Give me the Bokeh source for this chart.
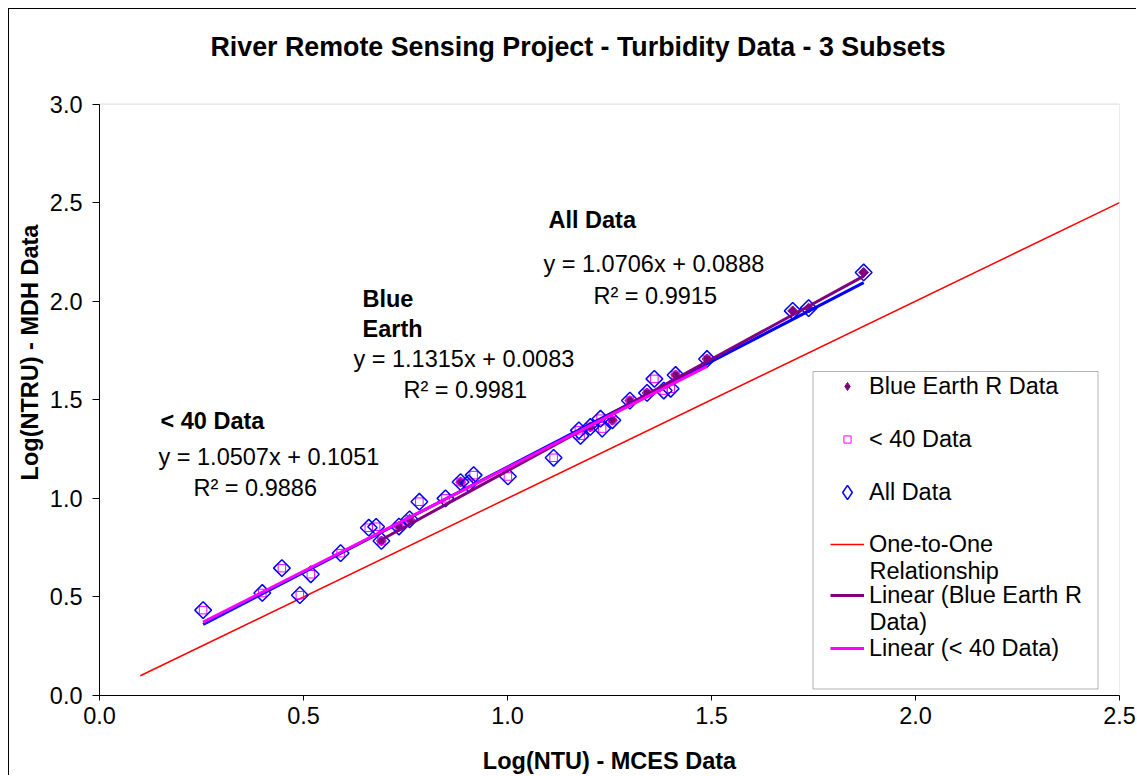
import numpy as np
from bokeh.plotting import figure
from bokeh.models import (Range1d, FixedTicker, Label, Legend, LegendItem,
                          BoxAnnotation)
from bokeh.embed import file_html
from bokeh.resources import INLINE

# ---------------- data ----------------
title_text = "River Remote Sensing Project - Turbidity Data - 3 Subsets"
x_label = "Log(NTU) - MCES Data"
y_label = "Log(NTRU) - MDH Data"

x_ticks = [0.0, 0.5, 1.0, 1.5, 2.0, 2.5]
x_tick_labels = ["0.0", "0.5", "1.0", "1.5", "2.0", "2.5"]
y_ticks = [0.0, 0.5, 1.0, 1.5, 2.0, 2.5, 3.0]
y_tick_labels = ["0.0", "0.5", "1.0", "1.5", "2.0", "2.5", "3.0"]
x_min, x_max = 0.0, 2.5
y_min, y_max = 0.0, 3.0

# All Data
all_x = [0.254, 0.399, 0.447, 0.491, 0.518, 0.591, 0.660, 0.678, 0.691, 0.734,
         0.760, 0.784, 0.848, 0.885, 0.905, 0.917, 1.001, 1.113, 1.175, 1.179,
         1.203, 1.228, 1.232, 1.257, 1.300, 1.342, 1.360, 1.383, 1.400, 1.412,
         1.489, 1.699, 1.738, 1.873]
all_y = [0.433, 0.520, 0.646, 0.509, 0.615, 0.722, 0.851, 0.856, 0.784, 0.857,
         0.894, 0.983, 1.000, 1.083, 1.076, 1.118, 1.111, 1.206, 1.345, 1.317,
         1.362, 1.404, 1.354, 1.396, 1.496, 1.535, 1.606, 1.547, 1.556, 1.626,
         1.707, 1.951, 1.965, 2.146]

# Blue Earth R Data
be_x = [0.691, 0.734, 0.760, 0.885, 1.203, 1.257, 1.300, 1.342, 1.412, 1.489,
        1.699, 1.738, 1.873]
be_y = [0.784, 0.857, 0.894, 1.083, 1.362, 1.396, 1.496, 1.535, 1.626, 1.707,
        1.951, 1.965, 2.146]

# < 40 Data
lt_x = [0.254, 0.399, 0.447, 0.491, 0.518, 0.591, 0.660, 0.678, 0.691, 0.734,
        0.760, 0.784, 0.848, 0.885, 0.905, 0.917, 1.001, 1.113, 1.175, 1.179,
        1.203, 1.228, 1.232, 1.257, 1.300, 1.342, 1.360, 1.383, 1.400, 1.412,
        1.489]
lt_y = [0.433, 0.520, 0.646, 0.509, 0.615, 0.722, 0.851, 0.856, 0.784, 0.857,
        0.894, 0.983, 1.000, 1.083, 1.076, 1.118, 1.111, 1.206, 1.345, 1.317,
        1.362, 1.404, 1.354, 1.396, 1.496, 1.535, 1.606, 1.547, 1.556, 1.626,
        1.707]

# one-to-one line
one_x = [0.1, 2.5]
one_y = [0.1, 2.5]

# trendline coefficients (slope, intercept, R^2)
fit_all = (1.0706, 0.0888, 0.9915)
fit_be = (1.1315, 0.0083, 0.9981)
fit_lt = (1.0507, 0.1051, 0.9886)

FONT = "Liberation Sans"

def trend(xs, fit):
    x0, x1 = min(xs), max(xs)
    return [x0, x1], [fit[0] * x0 + fit[1], fit[0] * x1 + fit[1]]

# ---------------- figure ----------------
# The frame reaches up to the top of the chart so that the title can live inside
# it; the plot area (0..2.5 x 0..3) is outlined separately.
PX_PER_Y = 198.0
TOP_ROOM = 95  # px between the top of the chart and the y=3.0 line
p = figure(width=1128, height=767,
           x_range=Range1d(x_min, x_max),
           y_range=Range1d(y_min, y_max + TOP_ROOM / PX_PER_Y),
           output_backend="svg", toolbar_location=None,
           min_border_left=90, min_border_right=18, min_border_top=0,
           min_border_bottom=78)
p.margin = (8, 0, 0, 8)
p.styles = {"border-left": "1px solid black", "border-top": "1px solid black"}
p.xgrid.visible = False
p.ygrid.visible = False
p.outline_line_color = None
p.background_fill_color = "white"
p.border_fill_color = "white"

# plot-area border (grey), under the axes
p.add_layout(BoxAnnotation(left=x_min, right=x_max, bottom=y_min, top=y_max,
                           fill_alpha=0, line_color="#808080", line_width=1,
                           level="underlay"))

for ax, ticks, labels in ((p.xaxis[0], x_ticks, x_tick_labels),
                          (p.yaxis[0], y_ticks, y_tick_labels)):
    ax.ticker = FixedTicker(ticks=ticks)
    ax.major_label_overrides = {t: l for t, l in zip(ticks, labels)}
    ax.minor_tick_line_color = None
    ax.major_tick_in = 0
    ax.axis_line_color = "black"
    ax.major_tick_line_color = "black"
    ax.major_label_text_font = FONT
    ax.major_label_text_font_size = "23.5px"
    ax.major_label_text_color = "black"
    ax.axis_label_text_font = FONT
    ax.axis_label_text_font_size = "23.5px"
    ax.axis_label_text_font_style = "bold"
    ax.axis_label_text_color = "black"

p.xaxis.axis_label = x_label
p.xaxis.major_tick_out = 5
p.xaxis.major_label_standoff = 6
p.xaxis.axis_label_standoff = 21
p.yaxis.axis_label = y_label
p.yaxis.bounds = (y_min, y_max)
p.yaxis.major_tick_out = 7
p.yaxis.major_label_standoff = 10
p.yaxis.axis_label_standoff = 4

# ---------------- series ----------------
r_one = p.line(one_x, one_y, line_color="#FF0000", line_width=1.5)

r_be = p.scatter(be_x, be_y, marker="square", size=7, angle=np.pi / 4,
                 fill_color="#800080", line_color="#800080", line_width=1)
r_lt = p.scatter(lt_x, lt_y, marker="square", size=7.5, fill_color=None,
                 line_color="#FF00FF", line_width=1)
r_all = p.scatter(all_x, all_y, marker="square", size=11.8, angle=np.pi / 4,
                  fill_color=None, line_color="#0000FF", line_width=1.5)

tx, ty = trend(all_x, fit_all)
r_fall = p.line(tx, ty, line_color="#0000FF", line_width=3)
tx, ty = trend(be_x, fit_be)
r_fbe = p.line(tx, ty, line_color="#800080", line_width=3)
tx, ty = trend(lt_x, fit_lt)
r_flt = p.line(tx, ty, line_color="#FF00FF", line_width=3)

# legend key proxies (hidden in the plot; only used to draw legend keys)
k_be = p.scatter(be_x, be_y, marker="diamond", fill_color="#800080",
                 line_color="#800080", line_width=1, visible=False)
k_all = p.scatter(all_x, all_y, marker="diamond", fill_color=None,
                  line_color="#0000FF", line_width=1.5, visible=False)

# ---------------- annotations ----------------
def lab(x, y, text, bold=False, units="data", align="left", size="23.5px"):
    p.add_layout(Label(x=x, y=y, x_units=units, y_units=units, text=text,
                       text_font=FONT, text_font_size=size,
                       text_font_style="bold" if bold else "normal",
                       text_color="black", text_align=align,
                       text_baseline="middle"))

def eq(fit):
    return f"y = {fit[0]:.4f}x + {fit[1]:.4f}"

def r2(fit):
    return f"R\u00b2 = {fit[2]:.4f}"

# chart title (inside the extended frame, above the plot area)
lab(1.1728, 3.288, title_text, bold=True, align="center", size="26.8px")

lab(1.1005, 2.414, "All Data", bold=True)
lab(1.0882, 2.187, eq(fit_all))
lab(1.2108, 2.025, r2(fit_all))
lab(0.6446, 2.010, "Blue", bold=True)
lab(0.6446, 1.859, "Earth", bold=True)
lab(0.6225, 1.707, eq(fit_be))
lab(0.7451, 1.551, r2(fit_be))
lab(0.1495, 1.394, "< 40 Data", bold=True)
lab(0.1446, 1.212, eq(fit_lt))
lab(0.2304, 1.051, r2(fit_lt))

# ---------------- legend ----------------
p.add_layout(BoxAnnotation(left=713.5, right=998.5, bottom=6.5, top=324,
                           left_units="screen", right_units="screen",
                           top_units="screen", bottom_units="screen",
                           fill_color="white", fill_alpha=1,
                           line_color="black", line_width=1))

KEY_CX = 748   # legend key centre (frame px)
TEXT_X = 770   # legend text left (frame px)
# (label, renderer, centre y, glyph width, glyph height)
entries = [("Blue Earth R Data", k_be, 309, 20, 30),
           ("< 40 Data", r_lt, 256, 18, 30),
           ("All Data", k_all, 203, 36, 36),
           ("One-to-One", r_one, 151, 34, 30),
           ("Linear (Blue Earth R", r_fbe, 100, 34, 30),
           ("Linear (< 40 Data)", r_flt, 47, 34, 30)]
for text, rend, cy, gw, gh in entries:
    lx = KEY_CX - gw // 2
    lg = Legend(items=[LegendItem(label=text, renderers=[rend])],
                location=(lx, cy - gh // 2), padding=0, margin=0, spacing=0,
                glyph_width=gw, glyph_height=gh, label_height=gh,
                label_standoff=TEXT_X - lx - gw, border_line_alpha=0,
                background_fill_alpha=0, inactive_fill_alpha=0,
                label_text_font=FONT, label_text_font_size="23.5px",
                label_text_color="black")
    p.add_layout(lg)

lab(TEXT_X, 125, "Relationship", units="screen")
lab(TEXT_X, 74, "Data)", units="screen")

open("out.html", "w").write(file_html(p, INLINE))
